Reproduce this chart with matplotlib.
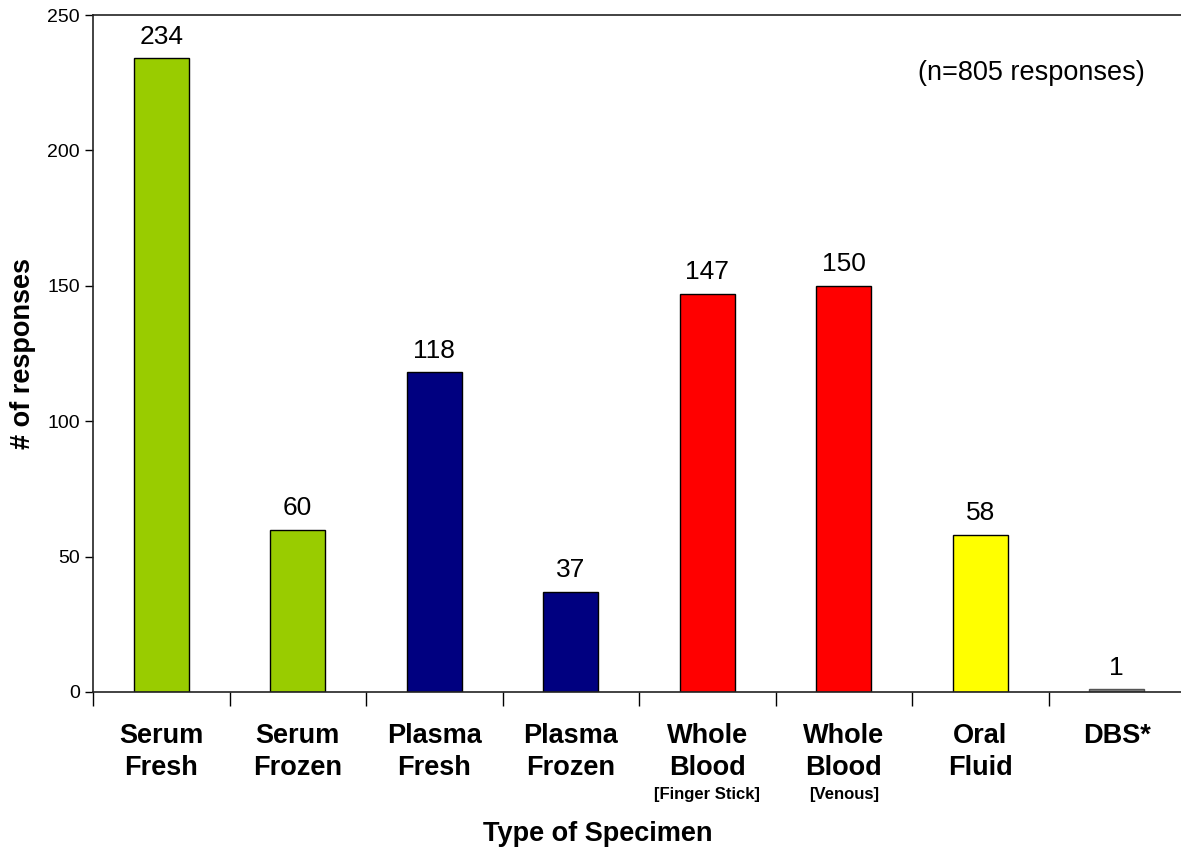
import numpy as np
import matplotlib.pyplot as plt
from matplotlib.ticker import FixedLocator

plt.rcParams['font.family'] = ['Liberation Sans', 'DejaVu Sans']

# Specimen types and counts
categories = ['Serum\nFresh', 'Serum\nFrozen', 'Plasma\nFresh', 'Plasma\nFrozen',
              'Whole\nBlood', 'Whole\nBlood', 'Oral\nFluid', 'DBS*']
sublabels = ['', '', '', '', '[Finger Stick]', '[Venous]', '', '']
counts = [234, 60, 118, 37, 147, 150, 58, 1]
colors = ['#99CC00', '#99CC00', '#000080', '#000080',
          '#FF0000', '#FF0000', '#FFFF00', '#808080']

fig = plt.figure(figsize=(11.81, 8.49), dpi=100)
ax = fig.add_axes([93 / 1181, 1 - 692 / 849, 1092 / 1181, 677 / 849])

x = np.arange(len(counts))
bars = ax.bar(x, counts, width=0.4, color=colors, edgecolor='black', linewidth=1)
bars[-1].set_edgecolor('#555555')

# value labels above bars
for xi, v in zip(x, counts):
    ax.annotate(str(v), (xi, v), xytext=(0, 7), textcoords='offset points',
                ha='center', va='bottom', fontsize=19)

ax.set_xlim(-0.5, len(counts) - 0.5)
ax.set_ylim(0, 250)
ax.set_yticks([0, 50, 100, 150, 200, 250])
ax.tick_params(axis='y', labelsize=14, length=6, width=1)

# category labels at centres, tick marks between categories
ax.set_xticks(x)
ax.set_xticklabels(categories, fontsize=19.5, fontweight='bold', linespacing=1.3)
ax.tick_params(axis='x', which='major', length=0, pad=22)
ax.xaxis.set_minor_locator(FixedLocator(np.arange(-0.5, len(counts), 1.0)))
ax.tick_params(axis='x', which='minor', length=10, width=1, direction='out')

for xi, s in zip(x, sublabels):
    if s:
        ax.text(xi, -95 / 677, s, transform=ax.get_xaxis_transform(),
                ha='center', va='top', fontsize=12, fontweight='bold')

for sp in ax.spines.values():
    sp.set_linewidth(1.2)
    sp.set_color('#222222')

ax.set_ylabel('# of responses', fontsize=19.5, fontweight='bold', labelpad=8)
fig.text(598 / 1181, 1 - 834 / 849, 'Type of Specimen', ha='center', va='center',
         fontsize=19.5, fontweight='bold')

ax.text((1031 - 93) / 1092, 1 - (73 - 15) / 677, '(n=805 responses)',
        transform=ax.transAxes, ha='center', va='center', fontsize=19.5)

fig.savefig('out.png', dpi=100)
